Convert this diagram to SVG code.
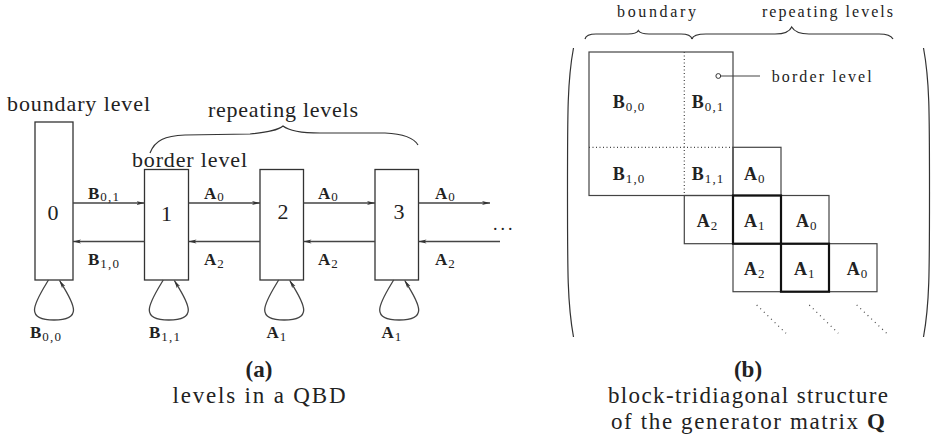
<svg xmlns="http://www.w3.org/2000/svg" width="933" height="446" viewBox="0 0 933 446">
  <style>
    .box { fill: #fff; stroke: #333; stroke-width: 1.3; }
    .edge { fill: none; stroke: #444; stroke-width: 1.3; marker-end: url(#arrow); }
    .t { font-family: "Liberation Serif", "DejaVu Serif", serif; fill: #222; }
    .lbl { font-size: 22px; }
    .sm { font-size: 16px; }
    .cap { font-size: 23px; }
    .num { font-size: 22px; text-anchor: middle; }
    .m { font-family: "Liberation Serif", "DejaVu Serif", serif; font-weight: bold; font-size: 17px; fill: #222; }
    .mm { font-family: "Liberation Serif", "DejaVu Serif", serif; font-weight: bold; font-size: 18px; fill: #222; }
    .s { font-weight: normal; font-size: 13px; letter-spacing: 1.2px; }
    .brace { fill: none; stroke: #333; stroke-width: 1.2; }
    .cell { fill: none; stroke: #444; stroke-width: 1.2; }
    .thick { fill: none; stroke: #111; stroke-width: 2.2; }
    .dot { fill: none; stroke: #444; stroke-width: 1.2; stroke-dasharray: 1 2.5; }
    .diag { fill: none; stroke: #444; stroke-width: 1.2; stroke-dasharray: 1 4; }
  </style>
  <defs>
    <marker id="arrow" markerUnits="userSpaceOnUse" markerWidth="10" markerHeight="6" refX="8" refY="3" orient="auto">
      <path d="M0,1 L8,3 L0,5 L2,3 Z" fill="#333"/>
    </marker>
    <path id="loop" d="M-3,0 C-9,10 -17,22 -17,30 C-17,37 -9,40 2.5,40 C14,40 22,37 22,30 C22,22 14,10 8,0.5"/>
  </defs>

  <!-- (a) levels of the QBD -->
  <g id="label-boundary-level">
    <text class="t lbl" x="7" y="111" textLength="143" lengthAdjust="spacing">boundary level</text>
  </g>
  <g id="label-repeating-levels">
    <path class="brace" d="M150,153 C155,140 165,136 185,135 L250,134 C270,132 278,130 283,126 C288,130 300,133 320,133 L385,133 C405,134 414,138 418,145"/>
    <text class="t lbl" x="208" y="117" textLength="150" lengthAdjust="spacing">repeating levels</text>
  </g>
  <g id="label-border-level">
    <text class="t lbl" x="132" y="167" textLength="115" lengthAdjust="spacing">border level</text>
  </g>

  <g id="node-0">
    <rect class="box" x="35" y="122" width="38" height="158"/>
    <text class="t num" x="53" y="220">0</text>
  </g>
  <g id="node-1">
    <rect class="box" x="144.5" y="169.5" width="44" height="110.5"/>
    <text class="t num" x="166.5" y="221">1</text>
  </g>
  <g id="node-2">
    <rect class="box" x="260" y="169.5" width="43.5" height="110.5"/>
    <text class="t num" x="283" y="219">2</text>
  </g>
  <g id="node-3">
    <rect class="box" x="375" y="169.5" width="43.5" height="110.5"/>
    <text class="t num" x="399" y="219">3</text>
  </g>

  <g id="connectors">
    <!-- forward transitions -->
    <line class="edge" x1="73" y1="203" x2="144.5" y2="203"/>
    <line class="edge" x1="188.5" y1="203" x2="260" y2="203"/>
    <line class="edge" x1="303.5" y1="203" x2="375" y2="203"/>
    <line class="edge" x1="418.5" y1="203" x2="490" y2="203"/>
    <!-- backward transitions -->
    <line class="edge" x1="144.5" y1="241.5" x2="73" y2="241.5"/>
    <line class="edge" x1="260" y1="241.5" x2="188.5" y2="241.5"/>
    <line class="edge" x1="375" y1="241.5" x2="303.5" y2="241.5"/>
    <line class="edge" x1="500" y1="241.5" x2="418.5" y2="241.5"/>
    <!-- self loops -->
    <use href="#loop" class="edge" transform="translate(51.5,280)"/>
    <use href="#loop" class="edge" transform="translate(166.3,280)"/>
    <use href="#loop" class="edge" transform="translate(281.7,280)"/>
    <use href="#loop" class="edge" transform="translate(396.7,280)"/>
  </g>

  <g id="edge-labels">
    <text class="m" x="88" y="198.5">B<tspan class="s" dx="1" dy="2.5">0,1</tspan></text>
    <text class="m" x="88" y="265">B<tspan class="s" dx="1" dy="2.5">1,0</tspan></text>
    <text class="m" x="204" y="198.5">A<tspan class="s" dx="1" dy="2.5">0</tspan></text>
    <text class="m" x="318" y="198.5">A<tspan class="s" dx="1" dy="2.5">0</tspan></text>
    <text class="m" x="435" y="198.5">A<tspan class="s" dx="1" dy="2.5">0</tspan></text>
    <text class="m" x="204" y="265">A<tspan class="s" dx="1" dy="2.5">2</tspan></text>
    <text class="m" x="318" y="265">A<tspan class="s" dx="1" dy="2.5">2</tspan></text>
    <text class="m" x="435" y="265">A<tspan class="s" dx="1" dy="2.5">2</tspan></text>
    <text class="m" x="30" y="338">B<tspan class="s" dx="1" dy="2.5">0,0</tspan></text>
    <text class="m" x="149" y="338">B<tspan class="s" dx="1" dy="2.5">1,1</tspan></text>
    <text class="m" x="266.5" y="338">A<tspan class="s" dx="1" dy="2.5">1</tspan></text>
    <text class="m" x="381.5" y="338">A<tspan class="s" dx="1" dy="2.5">1</tspan></text>
    <text class="t" x="493" y="230" font-size="18" letter-spacing="3">...</text>
  </g>

  <!-- (b) block structure of the generator -->
  <g id="matrix-headers">
    <path class="brace" d="M585,39 C586,35 590,34 596,34 L628,34 C634,34 637,33 638.3,30.5 C640,33 643,34 649,34 L681,34 C687,34 691,35 692,39"/>
    <path class="brace" d="M692,39 C693,35 698,34 706,34 L775,34 C785,34 790,31 791.7,27 C794,31 799,34 809,34 L879,34 C887,34 891,35 893,39"/>
    <text class="t sm" x="617" y="17" textLength="79" lengthAdjust="spacing">boundary</text>
    <text class="t sm" x="762" y="17" textLength="131" lengthAdjust="spacing">repeating levels</text>
  </g>

  <g id="matrix-brackets">
    <path class="brace" stroke-width="1.5" d="M573.5,48 C567.5,80 567.5,110 567.5,192 C567.5,274 567.5,304 573.5,337"/>
    <path class="brace" stroke-width="1.5" d="M923.5,48 C929.5,80 929.5,110 929.5,192 C929.5,274 929.5,304 923.5,337"/>
  </g>

  <g id="matrix-grid">
    <!-- boundary block -->
    <rect class="cell" x="589" y="52" width="144" height="143.5"/>
    <line class="dot" x1="684.3" y1="52" x2="684.3" y2="195.5"/>
    <line class="dot" x1="589" y1="147.3" x2="733" y2="147.3"/>
    <!-- row of level 1 -->
    <rect class="cell" x="733" y="147.3" width="48" height="48.2"/>
    <!-- row of level 2 -->
    <rect class="cell" x="684.3" y="195.5" width="144.7" height="48.2"/>
    <line class="cell" x1="781" y1="195.5" x2="781" y2="243.7"/>
    <!-- row of level 3 -->
    <rect class="cell" x="733" y="243.7" width="144" height="48"/>
    <line class="cell" x1="829" y1="243.7" x2="829" y2="291.7"/>
    <!-- diagonal blocks -->
    <rect class="thick" x="733" y="195.5" width="48" height="48.2"/>
    <rect class="thick" x="781" y="243.7" width="48" height="48"/>
    <!-- continuation -->
    <line class="diag" x1="756.7" y1="305" x2="786" y2="333.3"/>
    <line class="diag" x1="809.3" y1="305" x2="838.3" y2="333.3"/>
    <line class="diag" x1="856.7" y1="305" x2="886.7" y2="333.3"/>
  </g>

  <g id="matrix-labels">
    <text class="mm" x="612.7" y="108.3">B<tspan class="s" dx="1" dy="3">0,0</tspan></text>
    <text class="mm" x="691.7" y="108.3">B<tspan class="s" dx="1" dy="3">0,1</tspan></text>
    <text class="mm" x="612.7" y="180">B<tspan class="s" dx="1" dy="3">1,0</tspan></text>
    <text class="mm" x="691.7" y="180">B<tspan class="s" dx="1" dy="3">1,1</tspan></text>
    <text class="mm" x="744" y="180">A<tspan class="s" dx="1" dy="3">0</tspan></text>
    <text class="mm" x="696.7" y="226.7">A<tspan class="s" dx="1" dy="3">2</tspan></text>
    <text class="mm" x="744" y="226.7">A<tspan class="s" dx="1" dy="3">1</tspan></text>
    <text class="mm" x="796" y="226.7">A<tspan class="s" dx="1" dy="3">0</tspan></text>
    <text class="mm" x="744" y="275">A<tspan class="s" dx="1" dy="3">2</tspan></text>
    <text class="mm" x="794" y="275">A<tspan class="s" dx="1" dy="3">1</tspan></text>
    <text class="mm" x="846.7" y="275">A<tspan class="s" dx="1" dy="3">0</tspan></text>
  </g>

  <g id="border-level-pointer">
    <circle cx="718.3" cy="76" r="2.4" fill="#fff" stroke="#333" stroke-width="1"/>
    <line x1="720.7" y1="76" x2="760" y2="76" stroke="#444" stroke-width="1.2"/>
    <text class="t sm" x="771.7" y="81.7" textLength="100" lengthAdjust="spacing">border level</text>
  </g>

  <g id="captions">
    <text class="t cap" x="259" y="377" text-anchor="middle" font-weight="bold">(a)</text>
    <text class="t cap" x="259" y="403" text-anchor="middle" textLength="173" lengthAdjust="spacing">levels in a QBD</text>
    <text class="t cap" x="748" y="377" text-anchor="middle" font-weight="bold">(b)</text>
    <text class="t cap" x="748" y="403" text-anchor="middle" textLength="280" lengthAdjust="spacing">block-tridiagonal structure</text>
    <text class="t cap" x="748" y="429" text-anchor="middle" textLength="274" lengthAdjust="spacing">of the generator matrix <tspan font-weight="bold">Q</tspan></text>
  </g>
</svg>
